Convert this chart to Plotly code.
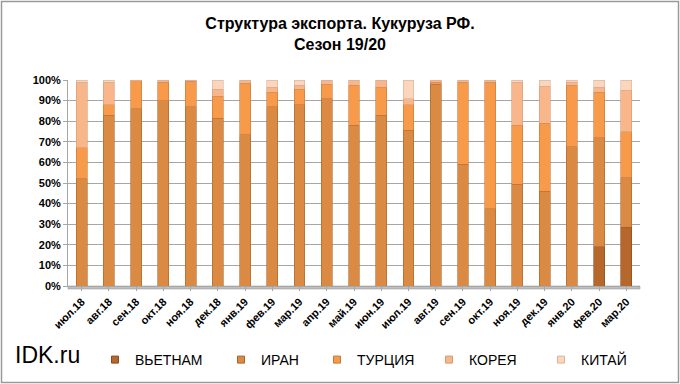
import plotly.graph_objects as go

months = ["июл.18", "авг.18", "сен.18", "окт.18", "ноя.18", "дек.18", "янв.19",
          "фев.19", "мар.19", "апр.19", "май.19", "июн.19", "июл.19", "авг.19",
          "сен.19", "окт.19", "ноя.19", "дек.19", "янв.20", "фев.20", "мар.20"]

vietnam = [0, 0, 0, 0, 0, 0, 0, 0, 0, 0, 0, 0, 0, 0, 0, 0, 0, 0, 0, 19, 28.5]
iran    = [52, 83, 86, 90, 87, 81.5, 73.5, 87, 88, 91, 78, 83, 75.5, 98, 59, 37.5, 49.5, 46, 67.5, 53, 24]
turkey  = [15, 5, 14, 9, 12.5, 10.5, 25, 7, 7.5, 7, 19.5, 13.5, 12.5, 1, 40, 61.5, 28.5, 33, 30, 22, 22.5]
korea   = [32, 11, 0, 1, 0.5, 3.5, 1.5, 2.5, 2, 2, 2.5, 3.5, 3, 1, 1, 1, 21, 18, 1.5, 2.5, 20]
china   = [1, 1, 0, 0, 0, 4.5, 0, 3.5, 2.5, 0, 0, 0, 9, 0, 0, 0, 1, 3, 1, 3.5, 5]

series_names = ["ВЬЕТНАМ", "ИРАН", "ТУРЦИЯ", "КОРЕЯ", "КИТАЙ"]
series_vals = [vietnam, iran, turkey, korea, china]
colors = ["#B5672C", "#DA8A43", "#F79A4A", "#F9B68A", "#FBD5BC"]
edges = ["#8A4A1E", "#A8652D", "#C7783A", "#D49A74", "#D9B49C"]

y_ticks = [0, 10, 20, 30, 40, 50, 60, 70, 80, 90, 100]
y_tick_text = [f"{v}%" for v in y_ticks]

# legend marker x positions (px) in the reference
legend_px = [114, 240, 336, 448, 560]
legend_ids = ["legend", "legend2", "legend3", "legend4", "legend5"]

fig = go.Figure()
for name, vals, c, e in zip(series_names, series_vals, colors, edges):
    fig.add_trace(go.Bar(
        x=months, y=vals, name=name, showlegend=False,
        marker=dict(color=c, line=dict(color=e, width=0.6)),
    ))
# legend entries with small square markers, each in its own legend box
for name, c, e, lid in zip(series_names, colors, edges, legend_ids):
    fig.add_trace(go.Scatter(
        x=[None], y=[None], name=name, mode="markers",
        marker=dict(symbol="square", size=7, color=c, line=dict(color=e, width=1)),
        showlegend=True, legend=lid,
    ))

W, H = 680, 384
L, R, T, B = 68, 40, 80, 98
pw, ph = W - L - R, H - T - B

def px_x(x):
    return (x - L) / pw

def px_y(y):
    return (H - B - y) / ph

font_main = "Liberation Sans, Arial, sans-serif"

legend_font = dict(size=14, family=font_main, color="#000000")
legends = {}
for lid, mx in zip(legend_ids, legend_px):
    legends[lid] = dict(
        orientation="h",
        xref="container", yref="container",
        x=(mx - 19) / W, y=(H - 360) / H,
        xanchor="left", yanchor="middle",
        font=legend_font,
        itemwidth=30,
        bgcolor="rgba(0,0,0,0)",
    )

fig.update_layout(
    width=W, height=H,
    margin=dict(l=L, r=R, t=T, b=B, autoexpand=False),
    barmode="stack",
    bargap=0.6,
    paper_bgcolor="white",
    plot_bgcolor="white",
    font=dict(family=font_main, color="#000000"),
    title=dict(
        text="<b>Структура экспорта. Кукуруза РФ.<br>Сезон 19/20</b>",
        x=0.5, xref="container", xanchor="center",
        y=0.925, yref="container", yanchor="top",
        font=dict(size=16, family=font_main, color="#000000"),
    ),
    xaxis=dict(
        tickangle=-45,
        tickfont=dict(size=11, family=font_main, color="#000000", weight="bold"),
        showgrid=False,
        showline=True, linecolor="#A6A6A6", linewidth=1,
        ticks="outside", ticklen=4, tickcolor="#A6A6A6",
        fixedrange=True,
    ),
    yaxis=dict(
        range=[0, 100],
        tickvals=y_ticks, ticktext=y_tick_text,
        tickfont=dict(size=11, family=font_main, color="#000000", weight="bold"),
        showgrid=True, gridcolor="#A6A6A6", gridwidth=1,
        showline=True, linecolor="#A6A6A6", linewidth=1,
        ticks="outside", ticklen=4, tickcolor="#A6A6A6",
        zeroline=False,
        fixedrange=True,
    ),
    showlegend=True,
    **legends,
)

# chart outer border
fig.add_shape(
    type="rect", xref="paper", yref="paper",
    x0=px_x(1.5), x1=px_x(W - 1.5), y0=px_y(H - 1.5), y1=px_y(1.5),
    line=dict(color="#9A9A9A", width=1.5), fillcolor="rgba(0,0,0,0)", layer="below",
)
# 3D floor strip
fig.add_shape(
    type="rect", xref="paper", yref="paper",
    x0=0, x1=1, y0=px_y(H - B + 3), y1=0,
    line=dict(color="#8C8C8C", width=0.5), fillcolor="#BFBFBF", layer="below",
)

fig.add_annotation(
    text="IDK.ru", xref="paper", yref="paper",
    x=px_x(13), y=px_y(355), xanchor="left", yanchor="middle",
    showarrow=False, font=dict(size=23, family=font_main, color="#000000"),
)

fig.write_html(
    "out.html",
    config={"displayModeBar": False},
    post_script="document.body.style.margin='0';document.body.style.overflow='hidden';",
)
